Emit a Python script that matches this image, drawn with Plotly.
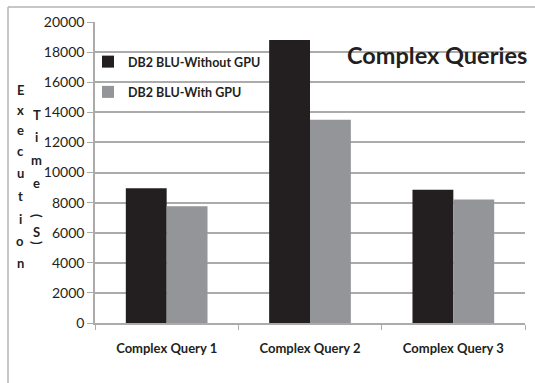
import plotly.graph_objects as go

# Query categories and execution times (seconds)
categories = ["Complex Query 1", "Complex Query 2", "Complex Query 3"]
without_gpu = [8950, 18800, 8850]
with_gpu = [7750, 13500, 8200]
series_names = ["DB2 BLU-Without GPU", "DB2 BLU-With GPU"]
y_ticks = [0, 2000, 4000, 6000, 8000, 10000, 12000, 14000, 16000, 18000, 20000]
y_tick_labels = [str(v) for v in y_ticks]
title_text = "Complex Queries"
ytitle_col1 = list("Execution")
ytitle_col2 = ["T", "i", "m", "e", "(", "S", ")"]

W, H = 535, 383
L, R, T, B = 95, 10, 22, 60
PW, PH = W - L - R, H - T - B

FONT = "Lato"
GRID = "#ababab"
INK = "#231f20"


def px_x(x):
    return (x - L) / PW


def px_y(y):
    return (H - B - y) / PH


fig = go.Figure()
fig.add_trace(go.Bar(x=categories, y=without_gpu, name=series_names[0],
                     marker=dict(color=INK, line=dict(width=0)),
                     legendgroup="a"))
fig.add_trace(go.Bar(x=categories, y=with_gpu, name=series_names[1],
                     marker=dict(color="#939598", line=dict(width=0)),
                     legendgroup="b"))

annotations = [
    dict(text=f"<b>{title_text}</b>", x=px_x(437), y=px_y(55), xref="paper", yref="paper",
         showarrow=False, font=dict(family=FONT, size=23.5, color=INK),
         xanchor="center", yanchor="middle"),
]

# vertical stacked axis title, one character per line
col1_y = [90, 110, 130, 151, 173, 196, 219, 241, 263]
for ch, yy in zip(ytitle_col1, col1_y):
    annotations.append(dict(text=f"<b>{ch}</b>", x=px_x(20), y=px_y(yy), xref="paper", yref="paper",
                            showarrow=False, font=dict(family=FONT, size=13, color=INK),
                            xanchor="center", yanchor="middle"))
col2_y = [115, 137, 160, 183, 216, 232, 243]
for ch, yy in zip(ytitle_col2, col2_y):
    rot = 90 if ch in "()" else 0
    annotations.append(dict(text=f"<b>{ch}</b>", x=px_x(37), y=px_y(yy), xref="paper", yref="paper",
                            showarrow=False, textangle=rot,
                            font=dict(family=FONT, size=13, color=INK),
                            xanchor="center", yanchor="middle"))

shapes = [
    # outer chart frame (top and left edges)
    dict(type="line", xref="paper", yref="paper", x0=px_x(8), x1=px_x(536), y0=px_y(7), y1=px_y(7),
         line=dict(color="#b5b5b5", width=1.5)),
    dict(type="line", xref="paper", yref="paper", x0=px_x(8), x1=px_x(8), y0=px_y(7), y1=px_y(384),
         line=dict(color="#b5b5b5", width=1.5)),
]

fig.update_layout(
    width=W, height=H,
    margin=dict(l=L, r=R, t=T, b=B),
    paper_bgcolor="white", plot_bgcolor="white",
    barmode="group", bargap=0.43, bargroupgap=0,
    font=dict(family=FONT, color=INK),
    showlegend=True,
    legend=dict(x=px_x(88), y=px_y(47), xanchor="left", yanchor="top",
                bgcolor="rgba(0,0,0,0)", font=dict(family=FONT, size=12.5, color=INK, weight="bold"),
                traceorder="grouped", tracegroupgap=11, itemwidth=30),
    annotations=annotations,
    shapes=shapes,
    xaxis=dict(showline=True, linecolor=GRID, linewidth=1.5, ticks="outside",
               tickson="boundaries", ticklen=5, tickcolor=GRID, tickwidth=1,
               ticklabelstandoff=13,
               tickfont=dict(family=FONT, size=13, color=INK, weight="bold"),
               showgrid=False),
    yaxis=dict(range=[0, 20000], tickvals=y_ticks, ticktext=y_tick_labels,
               showline=True, linecolor=GRID, linewidth=1.5,
               ticks="outside", ticklen=6, tickcolor=GRID, tickwidth=1,
               showgrid=True, gridcolor=GRID, gridwidth=1.5, zeroline=False,
               tickfont=dict(family=FONT, size=14, color=INK)),
)

fig.write_html("out.html")
